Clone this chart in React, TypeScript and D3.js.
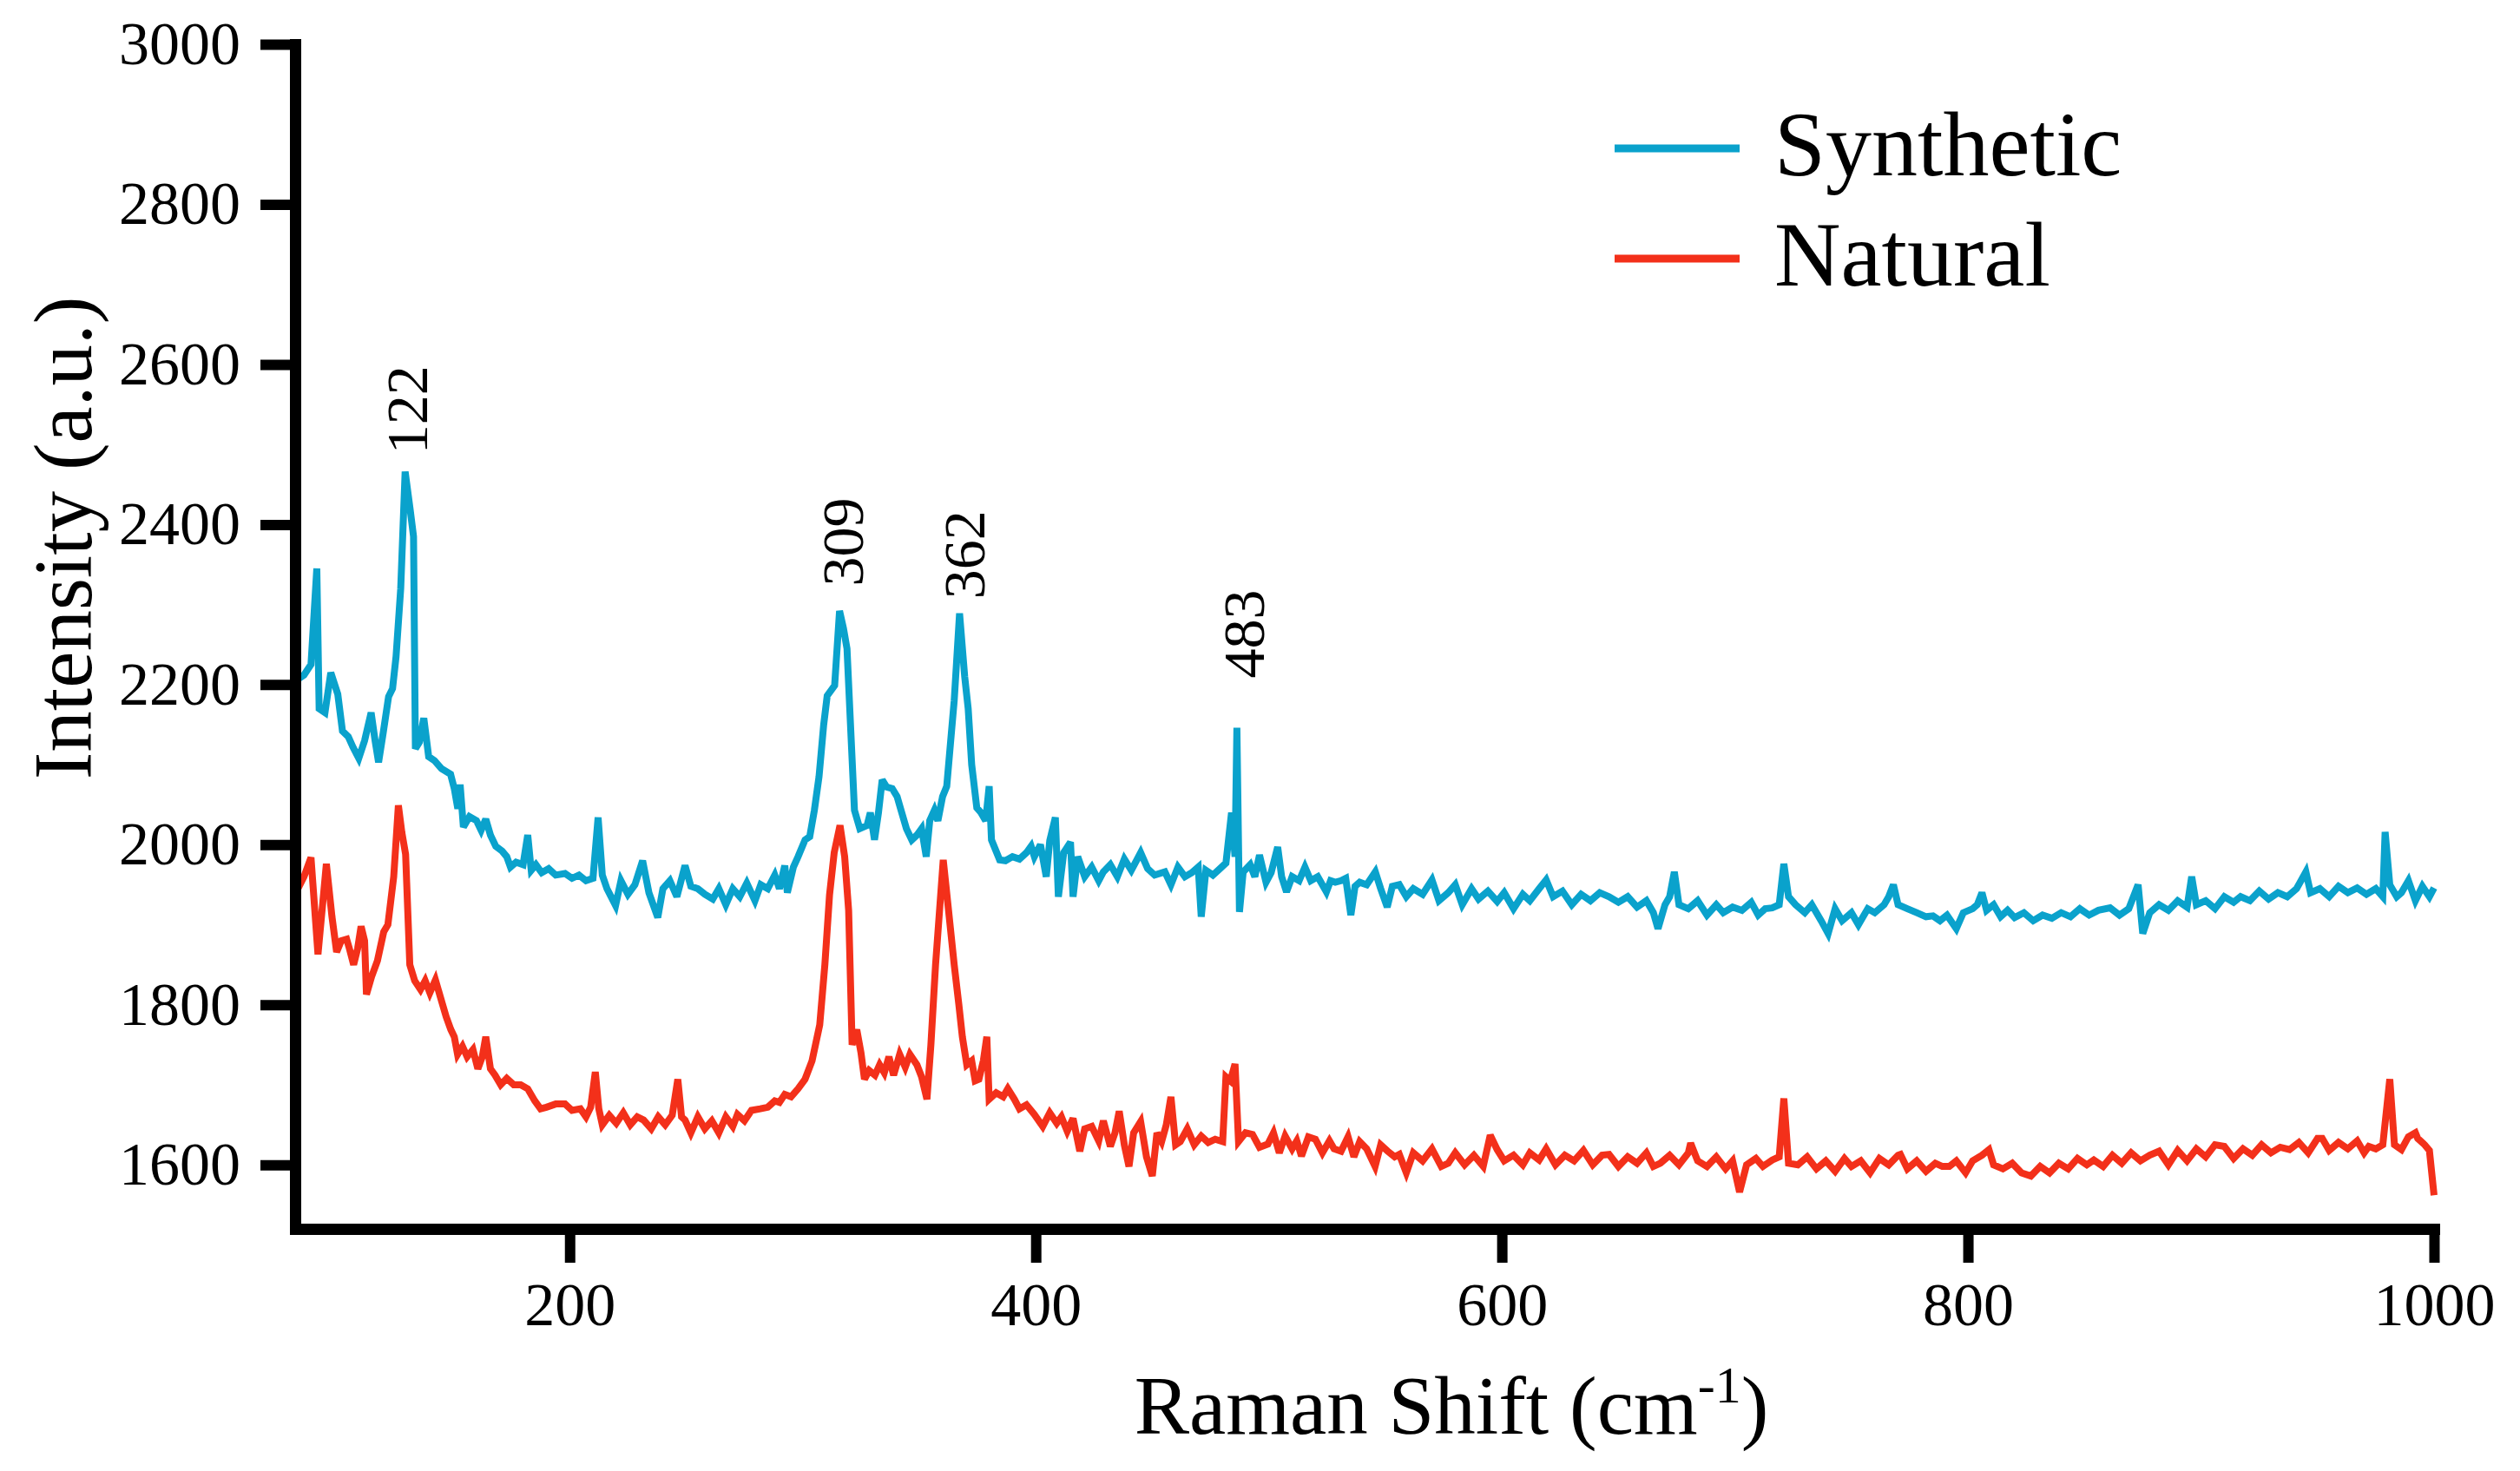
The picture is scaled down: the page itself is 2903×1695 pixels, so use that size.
import React, { useEffect, useRef } from "react";
import * as d3 from "d3";

// Raman spectra: [wavenumber (cm-1), intensity (a.u.)]
const synthetic: [number, number][] = [
  [82.5, 2205], [86, 2212], [89, 2225], [91.5, 2345], [92.5, 2170], [95, 2165], [97.5, 2215], [100.5, 2188],
  [102.5, 2142], [105, 2135], [107, 2122], [109.5, 2108], [112, 2130], [114.8, 2165], [116.5, 2130], [118, 2103],
  [120, 2140], [122.3, 2185], [124, 2195], [125.5, 2235], [127.5, 2320], [129.4, 2466], [131.5, 2420], [133, 2385],
  [133.8, 2120], [135.5, 2128], [137.4, 2158], [139.5, 2110], [142, 2105], [145, 2095], [148.9, 2088], [150.5, 2070],
  [152, 2045], [153, 2075], [154.4, 2022], [157, 2035], [160, 2030], [162, 2018], [164, 2032], [166, 2012],
  [168.3, 1998], [171, 1992], [173, 1985], [174.6, 1972], [177, 1978], [180, 1975], [182, 2012], [183.5, 1968],
  [185.5, 1975], [188, 1965], [191, 1970], [194, 1962], [198, 1964], [201, 1958], [204, 1962], [207, 1955],
  [210, 1958], [212.2, 2034], [214, 1962], [216, 1945], [219.7, 1924], [222, 1955], [225, 1938], [228, 1950],
  [231.3, 1980], [234, 1940], [237.8, 1909], [240, 1945], [243, 1955], [246, 1935], [249.5, 1974], [252, 1948],
  [255, 1945], [258, 1938], [261.4, 1932], [264, 1945], [267, 1925], [270, 1945], [273, 1935], [276, 1952],
  [279.5, 1930], [282, 1950], [285, 1945], [288, 1962], [290, 1945], [292.3, 1974], [293.4, 1940], [296, 1972],
  [298, 1985], [301, 2006], [303, 2010], [305, 2043], [307, 2085], [309, 2150], [310.5, 2186], [313.7, 2199],
  [315.8, 2292], [317.5, 2270], [319, 2245], [320.5, 2150], [322.2, 2043], [324.5, 2020], [327.6, 2024], [329, 2040],
  [330.8, 2006], [332.5, 2040], [334.1, 2081], [336, 2072], [338.4, 2070], [340.5, 2060], [342, 2045], [344.5, 2020],
  [346.8, 2006], [349, 2012], [351, 2020], [353, 1985], [354.5, 2030], [356.5, 2043], [358, 2030], [360, 2060],
  [361.8, 2073], [363.5, 2130], [365, 2180], [367.3, 2289], [369.5, 2210], [371, 2170], [372.5, 2100], [374.7, 2046],
  [376.5, 2040], [378.5, 2030], [380, 2073], [381, 2006], [384.5, 1981], [387, 1980], [390, 1985], [393, 1982],
  [396, 1990], [398, 1998], [399.4, 1985], [402, 2000], [404.5, 1960], [406, 2005], [408.4, 2034], [409.7, 1935],
  [412, 1990], [414.9, 2003], [416, 1935], [418, 1985], [421, 1960], [424, 1972], [427, 1955], [429, 1966],
  [432, 1975], [435, 1960], [438, 1982], [441, 1968], [445, 1990], [448, 1970], [451, 1962], [455.4, 1966],
  [458, 1950], [461, 1972], [464, 1960], [467, 1965], [469.7, 1972], [471, 1910], [473, 1968], [476, 1962],
  [479, 1970], [481.6, 1977], [484, 2040], [485.5, 1985], [486.3, 2146], [487.4, 1916], [489, 1966], [492, 1975],
  [494, 1960], [496, 1987], [498.8, 1953], [501, 1965], [503.8, 1997], [505.5, 1960], [507.6, 1941], [510, 1960],
  [513, 1955], [515.5, 1972], [518, 1955], [521, 1960], [524.7, 1941], [526.5, 1955], [528.5, 1953], [531, 1955],
  [533, 1958], [535.2, 1912], [537, 1948], [539, 1953], [542, 1950], [545.7, 1966], [548, 1945], [550.8, 1922],
  [553, 1948], [556, 1950], [559, 1935], [562, 1945], [566, 1938], [570, 1956], [573, 1930], [577, 1940],
  [580, 1950], [583, 1925], [587, 1945], [590, 1932], [594, 1942], [598, 1929], [601, 1940], [605, 1920],
  [609, 1938], [612, 1930], [616, 1945], [619, 1956], [622, 1935], [626, 1942], [630, 1925], [634, 1938],
  [638, 1930], [642, 1940], [646, 1935], [650, 1928], [654, 1935], [658, 1922], [662, 1930], [665, 1915],
  [667, 1895], [670, 1925], [672, 1935], [674, 1966], [676, 1925], [680, 1920], [684, 1930], [688, 1912],
  [692, 1925], [695, 1915], [699, 1922], [703, 1918], [707, 1928], [710, 1912], [713, 1920], [716, 1921],
  [719, 1925], [721, 1976], [723, 1935], [726, 1925], [730, 1915], [733, 1925], [737, 1905], [740, 1889],
  [743, 1920], [746, 1905], [750, 1915], [753, 1900], [757, 1920], [760, 1915], [764, 1925], [766, 1935],
  [768, 1950], [770, 1925], [774, 1920], [778, 1915], [782, 1910], [785, 1911], [788, 1905], [791, 1912],
  [795, 1895], [798, 1915], [802, 1920], [804, 1925], [806, 1940], [808, 1918], [811, 1925], [814, 1910],
  [817, 1918], [820, 1909], [824, 1915], [828, 1905], [832, 1912], [836, 1908], [840, 1915], [844, 1910],
  [848, 1920], [852, 1912], [856, 1918], [861, 1921], [865, 1912], [869, 1920], [873, 1950], [875, 1889],
  [878, 1915], [882, 1925], [886, 1918], [890, 1930], [894, 1922], [896, 1960], [898, 1925], [902, 1930],
  [906, 1920], [910, 1935], [914, 1928], [917, 1935], [921, 1930], [925, 1942], [929, 1932], [933, 1940],
  [937, 1935], [941, 1945], [945, 1966], [947, 1940], [951, 1945], [955, 1935], [959, 1948], [963, 1940],
  [967, 1946], [971, 1938], [975, 1945], [978, 1935], [979, 2016], [981, 1950], [984, 1935], [986, 1940],
  [989, 1955], [992, 1930], [995, 1948], [998, 1935], [1000, 1946],
];

const natural: [number, number][] = [
  [82.5, 1940], [86, 1960], [89, 1984], [92, 1863], [95.6, 1976], [98, 1910], [100, 1866], [102, 1880],
  [104.3, 1882], [105.5, 1870], [107.3, 1850], [109, 1870], [110.5, 1898], [112, 1880], [112.8, 1813], [115, 1835],
  [117.5, 1855], [120.2, 1891], [122, 1900], [124.5, 1960], [126.5, 2049], [128, 2015], [129.6, 1988], [131.4, 1850],
  [133.5, 1830], [136, 1819], [138, 1830], [140, 1815], [142.4, 1831], [144.5, 1810], [147, 1785], [149, 1769],
  [150.5, 1760], [151.9, 1738], [154, 1748], [156, 1735], [158.5, 1744], [160.6, 1720], [162.5, 1735], [164, 1760],
  [166, 1720], [168, 1712], [170.4, 1700], [173, 1708], [176, 1700], [179, 1700], [182, 1695], [185, 1680],
  [187.5, 1670], [190, 1672], [194, 1676], [198, 1676], [201, 1668], [204.6, 1670], [207, 1660], [209, 1672],
  [211, 1716], [212.5, 1670], [214, 1650], [217, 1662], [220, 1652], [223, 1665], [226, 1650], [229, 1660],
  [231.7, 1656], [235, 1645], [238, 1660], [241, 1650], [244, 1662], [246.4, 1707], [248, 1660], [249.5, 1656],
  [252, 1640], [255, 1660], [258, 1645], [261, 1655], [264, 1640], [267, 1660], [270, 1648], [272, 1663],
  [275, 1655], [278, 1668], [281.8, 1670], [285, 1672], [288, 1680], [290, 1678], [292.3, 1688], [295, 1685],
  [298, 1695], [301, 1707], [304, 1730], [307.3, 1775], [309.5, 1850], [311.5, 1937], [313.5, 1990], [316, 2024],
  [318, 1985], [319.7, 1918], [321.2, 1750], [323.2, 1769], [325, 1740], [326.5, 1707], [328.5, 1718], [331, 1712],
  [333, 1725], [335, 1715], [337, 1735], [339, 1712], [341.6, 1738], [344, 1722], [346, 1738], [349, 1725],
  [351, 1710], [353.3, 1682], [355, 1750], [357, 1850], [360.3, 1981], [362.5, 1920], [365, 1850], [367, 1800],
  [368.5, 1760], [370.4, 1725], [372.5, 1730], [374, 1705], [375.6, 1707], [377.5, 1730], [379, 1760], [380, 1682],
  [383, 1690], [386, 1685], [388, 1695], [390.8, 1682], [393, 1670], [396, 1675], [399.4, 1663], [403, 1648],
  [406, 1665], [409, 1652], [411, 1660], [413.5, 1642], [416, 1658], [418.9, 1617], [421, 1645], [424, 1648],
  [427, 1630], [429, 1655], [432, 1623], [434, 1640], [435.8, 1667], [438, 1625], [440, 1598], [442, 1640],
  [445, 1654], [447.5, 1610], [450, 1586], [452, 1640], [454, 1629], [456, 1650], [458, 1685], [460, 1625],
  [462, 1629], [465, 1645], [468, 1625], [471, 1636], [474, 1628], [477, 1632], [480.2, 1629], [481.6, 1710],
  [483.5, 1705], [485.5, 1726], [487, 1629], [490, 1640], [493, 1638], [496, 1622], [499.6, 1626], [502, 1640],
  [504.5, 1615], [507, 1636], [510, 1620], [512, 1630], [514, 1611], [517, 1635], [520, 1632], [523, 1615],
  [526, 1630], [528, 1620], [531, 1617], [534, 1635], [536.5, 1610], [539, 1629], [542, 1620], [545.6, 1598],
  [548, 1625], [551, 1617], [554, 1610], [556, 1613], [559, 1590], [562, 1615], [566, 1605], [570, 1620],
  [574, 1598], [577, 1602], [580, 1615], [584, 1600], [588, 1612], [592, 1598], [595, 1637], [598, 1619],
  [601, 1605], [605, 1612], [609, 1600], [612, 1615], [616, 1606], [619, 1620], [623, 1600], [627, 1612],
  [631, 1605], [635, 1618], [639, 1600], [643, 1612], [646, 1613], [650, 1598], [654, 1610], [658, 1602],
  [662, 1615], [665, 1598], [668, 1602], [672, 1612], [676, 1600], [680, 1615], [681, 1627], [684, 1605],
  [688, 1598], [692, 1610], [696, 1595], [699, 1605], [702, 1566], [705, 1600], [709, 1608], [712, 1598],
  [716, 1606], [719, 1610], [721, 1683], [723, 1602], [727, 1600], [731, 1610], [735, 1595], [739, 1605],
  [743, 1592], [747, 1608], [750, 1598], [754, 1605], [758, 1590], [762, 1608], [766, 1600], [770, 1612],
  [771, 1613], [774, 1595], [778, 1605], [782, 1592], [786, 1602], [789, 1598], [792, 1598], [795, 1605],
  [799, 1590], [802, 1605], [806, 1612], [809, 1619], [811, 1600], [815, 1595], [819, 1602], [823, 1590],
  [827, 1586], [831, 1598], [835, 1590], [839, 1602], [843, 1595], [847, 1608], [851, 1600], [854, 1606],
  [858, 1598], [862, 1612], [866, 1602], [870, 1615], [874, 1605], [878, 1612], [882, 1617], [886, 1600],
  [890, 1618], [894, 1605], [898, 1620], [902, 1610], [906, 1625], [910, 1623], [914, 1608], [918, 1620],
  [922, 1612], [926, 1625], [930, 1615], [934, 1622], [938, 1619], [942, 1628], [946, 1615], [950, 1633],
  [952, 1633], [955, 1618], [959, 1628], [963, 1620], [967, 1630], [970, 1615], [972, 1623], [975, 1620],
  [978, 1625], [981, 1707], [983, 1625], [986, 1619], [989, 1635], [992, 1640], [993, 1633], [996, 1625],
  [998, 1618], [1000, 1562],
];

const xTicks = [200, 400, 600, 800, 1000];
const yTicks = [1600, 1800, 2000, 2200, 2400, 2600, 2800, 3000];

// peak annotations: label text and the [cm-1, a.u.] point where the rotated label starts
const peakLabels = ["122", "309", "362", "483"];
const peakAnchors: [number, number][] = [[129.9, 2488], [317, 2323], [369, 2307], [489, 2208]];

const seriesNames = ["Synthetic", "Natural"];
const seriesColors = ["#0aa2cc", "#f3301a"];

const FONT = "Liberation Serif";

const App: React.FC = () => {
  const svgRef = useRef<SVGSVGElement | null>(null);
  const width = 2903;
  const height = 1695;

  useEffect(() => {
    const svg = d3.select(svgRef.current);
    svg.selectAll("*").remove();

    const x = d3.scaleLinear().domain([82.2, 1000]).range([340, 2804]);
    const y = d3.scaleLinear().domain([1520, 3000]).range([1416, 51]);

    const line = d3
      .line<[number, number]>()
      .x((d) => x(d[0]))
      .y((d) => y(d[1]));

    // spectra
    [synthetic, natural].forEach((s, i) => {
      svg
        .append("path")
        .datum(s)
        .attr("d", line)
        .attr("fill", "none")
        .attr("stroke", seriesColors[i])
        .attr("stroke-width", 8)
        .attr("stroke-linejoin", "miter")
        .attr("stroke-miterlimit", 3);
    });

    // y axis
    const yAxis = svg
      .append("g")
      .attr("transform", `translate(340,0)`)
      .call(
        d3
          .axisLeft(y)
          .tickValues(yTicks)
          .tickSize(40)
          .tickSizeOuter(0)
          .tickPadding(23)
          .tickFormat(d3.format("d"))
      );

    // x axis
    const xAxis = svg
      .append("g")
      .attr("transform", `translate(0,1416)`)
      .call(
        d3
          .axisBottom(x)
          .tickValues(xTicks)
          .tickSize(39)
          .tickSizeOuter(0)
          .tickPadding(22)
          .tickFormat(d3.format("d"))
      );

    [yAxis, xAxis].forEach((g) => {
      g.attr("font-family", FONT).attr("font-size", 70);
      g.select(".domain")
        .attr("stroke", "#000")
        .attr("stroke-width", 13)
        .attr("stroke-linecap", "square");
      g.selectAll(".tick line").attr("stroke", "#000").attr("stroke-width", 12);
      g.selectAll(".tick text").attr("fill", "#000");
    });

    // peak labels
    svg
      .selectAll(".peak")
      .data(peakLabels)
      .enter()
      .append("text")
      .attr("class", "peak")
      .attr(
        "transform",
        (_d, i) => `translate(${x(peakAnchors[i][0])},${y(peakAnchors[i][1])}) rotate(-90)`
      )
      .attr("dy", "0.35em")
      .attr("text-anchor", "start")
      .attr("font-family", FONT)
      .attr("font-size", 68)
      .text((d) => d);

    // axis titles
    svg
      .append("text")
      .attr("transform", "translate(105,620) rotate(-90)")
      .attr("text-anchor", "middle")
      .attr("font-family", FONT)
      .attr("font-size", 95)
      .text("Intensity (a.u.)");

    const xt = svg
      .append("text")
      .attr("x", 1672)
      .attr("y", 1652)
      .attr("text-anchor", "middle")
      .attr("font-family", FONT)
      .attr("font-size", 95);
    xt.append("tspan").text("Raman Shift (cm");
    xt.append("tspan").attr("dy", -36).attr("font-size", 60).text("-1");
    xt.append("tspan").attr("dy", 36).text(")");

    // legend
    const legend = svg.append("g").attr("font-family", FONT).attr("font-size", 106);
    seriesNames.forEach((name, i) => {
      const ly = 171 + i * 127;
      legend
        .append("line")
        .attr("x1", 1860)
        .attr("x2", 2004)
        .attr("y1", ly)
        .attr("y2", ly)
        .attr("stroke", seriesColors[i])
        .attr("stroke-width", 9);
      legend
        .append("text")
        .attr("x", 2044)
        .attr("y", ly + 31)
        .text(name);
    });
  }, []);

  return (
    <svg
      ref={svgRef}
      width={width}
      height={height}
      style={{ position: "absolute", left: 0, top: 0, background: "#fff" }}
    ></svg>
  );
};

export default App;
